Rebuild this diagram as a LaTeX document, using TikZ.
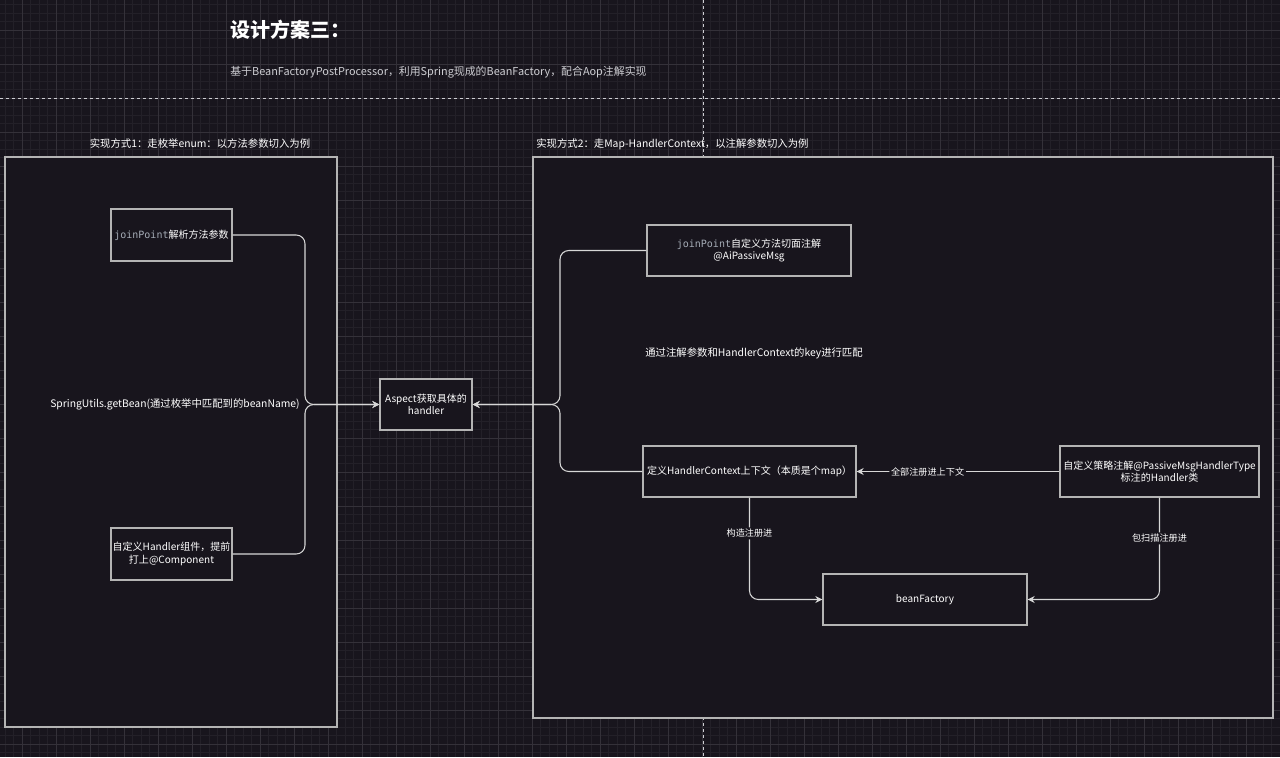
\documentclass[tikz,border=0pt]{standalone}
\usepackage{fontspec}
\setmainfont{Noto Sans CJK SC}
\setmonofont{DejaVu Sans Mono}
\usetikzlibrary{arrows.meta}

\definecolor{bgdark}{RGB}{24,21,29}
\definecolor{gridminor}{RGB}{35,32,40}
\definecolor{gridmajor}{RGB}{52,49,57}
\definecolor{boxline}{RGB}{180,180,180}
\definecolor{linkline}{RGB}{215,215,215}
\definecolor{codegray}{RGB}{165,172,182}
\definecolor{subgray}{RGB}{205,205,210}

\tikzset{
  panel/.style={draw=boxline, fill=bgdark, line width=0.65pt},
  box/.style={draw=boxline, fill=bgdark, line width=0.75pt, text=white, align=center, inner sep=0pt,
    font=\fontsize{5.7}{7}\selectfont},
  link/.style={draw=linkline, line width=0.6pt, rounded corners=5pt, -{Stealth[length=4pt,width=4pt]}},
  lbl/.style={text=white, inner sep=0pt, font=\fontsize{5.9}{7}\selectfont},
  edgelbl/.style={fill=bgdark, text=white, inner sep=1pt, font=\fontsize{5.2}{6}\selectfont},
  sep/.style={draw=subgray, line width=0.5pt, dash pattern=on 1.7pt off 1.7pt},
}
\newcommand{\jp}{{\ttfamily\color{codegray}joinPoint}}

\begin{document}
\begin{tikzpicture}[x=0.02cm,y=-0.02cm]
\useasboundingbox (0,0) rectangle (1280,757);
\fill[bgdark] (0,0) rectangle (1280,757);
% grid
\foreach \i in {0,...,149}{\draw[gridminor,line width=0.3pt] ({5+8.5*\i},0) -- ({5+8.5*\i},757);}
\foreach \i in {0,...,88}{\draw[gridminor,line width=0.3pt] (0,{4.5+8.5*\i}) -- (1280,{4.5+8.5*\i});}
\foreach \i in {0,...,37}{\draw[gridmajor,line width=0.4pt] ({22+34*\i},0) -- ({22+34*\i},757);}
\foreach \i in {0,...,21}{\draw[gridmajor,line width=0.4pt] (0,{30+34*\i}) -- (1280,{30+34*\i});}
\draw[sep] (0,98) -- (1280,98);
\draw[sep] (703,0) -- (703,757);

% title
\node[anchor=west, text=white, inner sep=0pt, font=\fontsize{11.4}{13}\selectfont\bfseries] (title) at (230,30) {设计方案三：};
\node[anchor=west, text=subgray, inner sep=0pt, font=\fontsize{6.2}{7.5}\selectfont] (subtitle) at (230,72)
  {基于BeanFactoryPostProcessor，利用Spring现成的BeanFactory，配合Aop注解实现};

% panels
\node[lbl] (way1) at (200,144) {实现方式1：走枚举enum：以方法参数切入为例};
\node[lbl, anchor=west] (way2) at (536,144) {实现方式2：走Map-HandlerContext，以注解参数切入为例};
\draw[panel] (5,157) rectangle (337,727);
\draw[panel] (533,157) rectangle (1273,718);

% left side
\node[box, minimum width=2.42cm, minimum height=1.04cm] (jp1) at (171.5,235) {\jp 解析方法参数};
\node[box, minimum width=2.42cm, minimum height=1.04cm] (comp) at (171.5,554) {自定义Handler组件，提前\\打上@Component};
\node[lbl] (getbean) at (175,404) {SpringUtils.getBean(通过枚举中匹配到的beanName)};
\node[box, minimum width=1.84cm, minimum height=1.02cm] (aspect) at (426,404.5) {Aspect获取具体的\\handler};

% right side
\node[box, minimum width=4.08cm, minimum height=1.02cm] (jp2) at (749,250.5) {\jp 自定义方法切面注解\\@AiPassiveMsg};
\node[lbl, anchor=west] (match) at (645,353) {通过注解参数和HandlerContext的key进行匹配};
\node[box, minimum width=4.26cm, minimum height=1.02cm] (ctx) at (749.5,471.5) {定义HandlerContext上下文（本质是个map）};
\node[box, minimum width=3.98cm, minimum height=1.02cm] (strategy) at (1159.5,471.5) {自定义策略注解@PassiveMsgHandlerType\\标注的Handler类};
\node[box, minimum width=4.08cm, minimum height=1.02cm] (bf) at (925,599.5) {beanFactory};

\coordinate (lbus) at (305,0);
\coordinate (rbus) at (560,0);

% connectors
\draw[link] (jp1.east) -| (lbus |- aspect.west) -- (aspect.west);
\draw[link] (comp.east) -| (lbus |- aspect.west) -- (aspect.west);
\draw[link] (jp2.west) -| (rbus |- aspect.east) -- (aspect.east);
\draw[link] (ctx.west) -| (rbus |- aspect.east) -- (aspect.east);
\draw[link] (strategy.west) -- node[edgelbl, pos=0.65] {全部注册进上下文} (ctx.east);
\draw[link] (ctx.south) |- node[edgelbl, pos=0.175] {构造注册进} (bf.west);
\draw[link] (strategy.south) |- node[edgelbl, pos=0.2] {包扫描注册进} (bf.east);
\end{tikzpicture}
\end{document}
